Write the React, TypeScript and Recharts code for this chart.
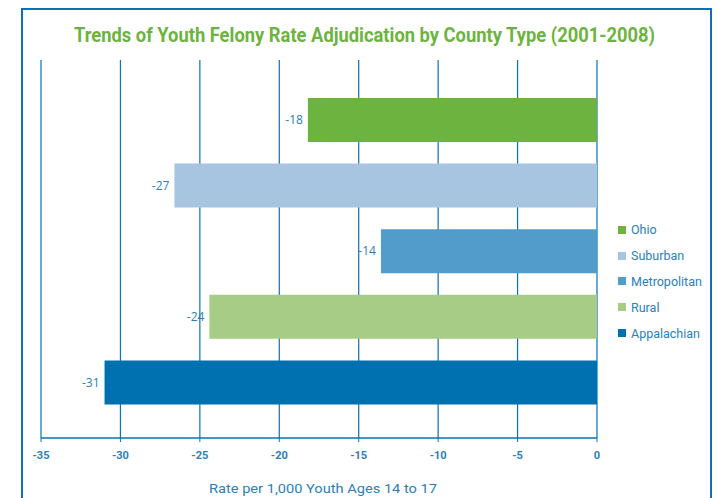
import React from 'react'
import { BarChart, Bar, XAxis, YAxis, CartesianGrid, Cell, LabelList } from 'recharts'

const categories = ['Ohio', 'Suburban', 'Metropolitan', 'Rural', 'Appalachian']
const values = [-18.2, -26.6, -13.6, -24.4, -31.0]
const colors = ['#6db33f', '#a7c5e1', '#519ccb', '#a7cc85', '#0071b0']
const xTicks = [-35, -30, -25, -20, -15, -10, -5, 0]

const data = categories.map((name, i) => ({ name, value: values[i], color: colors[i] }))

const BLUE = '#0a72b2'
const TEXT = '#2a80bb'
const FONT = 'Roboto, "Noto Sans", sans-serif'

export default function App() {
  return (
    <div style={{ position: 'absolute', left: 0, top: 0, width: 717, height: 498, overflow: 'hidden', background: '#fff' }}>
      <div style={{ position: 'absolute', left: 21, top: 8, width: 687, height: 520, border: `2px solid ${BLUE}` }} />
      <div style={{ position: 'absolute', top: 0, left: 0 }}>
        <BarChart
          width={717}
          height={498}
          data={data}
          layout="vertical"
          margin={{ top: 60, left: 41, right: 120, bottom: 30 }}
        >
          <CartesianGrid horizontal={false} stroke={BLUE} strokeWidth={1.2} />
          <XAxis
            type="number"
            domain={[-35, 0]}
            ticks={xTicks}
            height={30}
            axisLine={{ stroke: BLUE, strokeWidth: 1.5 }}
            tickLine={{ stroke: BLUE }}
            tickSize={4}
            tick={{ fill: TEXT, fontSize: 11, fontWeight: 'bold', fontFamily: FONT }}
            tickMargin={9}
          />
          <YAxis type="category" dataKey="name" hide padding={{ top: 27, bottom: 23 }} />
          <Bar dataKey="value" barSize={44} isAnimationActive={false}>
            {data.map(d => (
              <Cell key={d.name} fill={d.color} />
            ))}
            <LabelList
              dataKey="value"
              position="right"
              offset={5}
              formatter={(v: number) => Math.round(v)}
              style={{ fill: TEXT, fontSize: 12, fontFamily: '"Open Sans", sans-serif' }}
            />
          </Bar>
        </BarChart>
      </div>
      <div style={{ position: 'absolute', left: 618, top: 217, fontFamily: FONT, fontSize: 12.5, color: TEXT }}>
        {data.map(d => (
          <div key={d.name} style={{ display: 'flex', alignItems: 'center', height: 25.8 }}>
            <div style={{ width: 8, height: 8, background: d.color, marginRight: 5 }} />
            <span>{d.name}</span>
          </div>
        ))}
      </div>
      <svg width={717} height={498} style={{ position: 'absolute', left: 0, top: 0, pointerEvents: 'none' }}>
        <text
          x={74}
          y={42}
          textLength={581}
          lengthAdjust="spacingAndGlyphs"
          fill="#6db33f"
          fontFamily={FONT}
          fontWeight="bold"
          fontSize={20}
        >
          Trends of Youth Felony Rate Adjudication by County Type (2001-2008)
        </text>
        <text
          x={209}
          y={493}
          textLength={228}
          lengthAdjust="spacingAndGlyphs"
          fill={TEXT}
          fontFamily={FONT}
          fontSize={13.5}
        >
          Rate per 1,000 Youth Ages 14 to 17
        </text>
      </svg>
    </div>
  )
}
